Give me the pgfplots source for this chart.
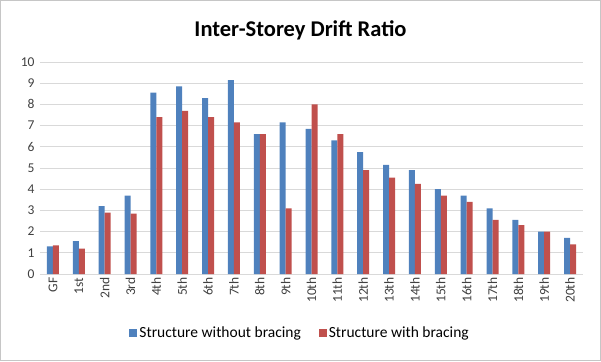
\documentclass[border=0pt]{standalone}
\usepackage{pgfplots}
\pgfplotsset{compat=1.18}
\usepackage{fontspec}
\setmainfont{Carlito}
\definecolor{cblue}{HTML}{4F81BD}
\definecolor{cred}{HTML}{C0504D}
\definecolor{gridc}{HTML}{D9D9D9}
\begin{document}
\begin{tikzpicture}[x=1pt,y=1pt]
\draw[gray!45, line width=1pt] (0.5,0.5) rectangle (600.5,360.5);
\node[font=\fontsize{22.5}{26}\selectfont\bfseries] at (300.5,331) {Inter-Storey Drift Ratio};
\begin{axis}[
  at={(40pt,87pt)}, anchor=south west,
  scale only axis, width=543pt, height=212pt,
  xmin=-0.5, xmax=20.5, ymin=0, ymax=10,
  ytick={0,1,...,10},
  xtick={0,1,...,20},
  xticklabels={GF,1st,2nd,3rd,4th,5th,6th,7th,8th,9th,10th,11th,12th,13th,14th,15th,16th,17th,18th,19th,20th},
  x tick label style={rotate=90, anchor=east, font=\fontsize{13.5}{15}\selectfont, text=black!75, yshift=0pt},
  y tick label style={font=\fontsize{13.5}{15}\selectfont, text=black!75, xshift=-2pt},
  /pgf/number format/assume math mode=true,
  major tick length=0pt,
  ymajorgrids, grid style={gridc, line width=0.8pt},
  axis x line*=bottom, axis y line*=left,
  x axis line style={gridc, line width=0.8pt, -},
  y axis line style={draw=none},
  ybar, bar width=6pt,
  legend style={at={(0.479,-0.278)}, anchor=center, draw=none, fill=none,
    legend columns=2, font=\fontsize{15.5}{17}\selectfont,
    /tikz/every even column/.append style={column sep=16pt}},
  legend image code/.code={\fill[#1] (0pt,-4pt) rectangle (8pt,4pt);},
  clip=false,
]
\addplot[fill=cblue, draw=none, bar shift=-3pt] coordinates {
(0,1.3) (1,1.55) (2,3.2) (3,3.7) (4,8.55) (5,8.85) (6,8.3) (7,9.15) (8,6.6) (9,7.15) (10,6.85)
(11,6.3) (12,5.75) (13,5.15) (14,4.9) (15,4.0) (16,3.7) (17,3.1) (18,2.55) (19,2.0) (20,1.7)};
\addplot[fill=cred, draw=none, bar shift=3pt] coordinates {
(0,1.35) (1,1.2) (2,2.9) (3,2.85) (4,7.4) (5,7.7) (6,7.4) (7,7.15) (8,6.6) (9,3.1) (10,8.0)
(11,6.6) (12,4.9) (13,4.55) (14,4.25) (15,3.7) (16,3.4) (17,2.55) (18,2.3) (19,2.0) (20,1.4)};
\legend{Structure without bracing, Structure with bracing}
\end{axis}
\end{tikzpicture}
\end{document}
